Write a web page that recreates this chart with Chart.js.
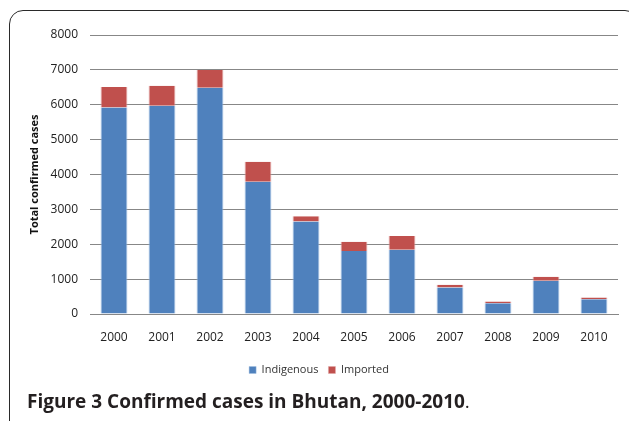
<!DOCTYPE html>
<html>
<head>
<meta charset="utf-8">
<script src="https://cdn.jsdelivr.net/npm/chart.js@4.4.1/dist/chart.umd.min.js"></script>
<style>
  html, body { margin: 0; padding: 0; background: #fff; }
  #wrap { position: relative; width: 629px; height: 421px; overflow: hidden; background: #fff; }
  #frame { position: absolute; left: 9px; top: 10px; width: 630px; height: 430px; border: 1.5px solid #2a2a2a; border-radius: 14px; box-sizing: border-box; }
  canvas { position: absolute; left: 0; top: 0; }
  #caption { position: absolute; left: 27px; top: 391px; font-family: "Open Sans", sans-serif; font-size: 19px; line-height: 20px; color: #231f20; white-space: nowrap; }
  #caption b { font-weight: 700; }
  #caption span { font-weight: 400; }
</style>
</head>
<body>
<div id="wrap">
  <div id="frame"></div>
  <canvas id="c" width="629" height="421"></canvas>
  <div id="caption"><b>Figure 3 Confirmed cases in Bhutan, 2000-2010</b><span>.</span></div>
</div>
<script>
const years = ["2000","2001","2002","2003","2004","2005","2006","2007","2008","2009","2010"];
const indigenous = [5920, 5970, 6490, 3790, 2650, 1810, 1840, 760, 305, 955, 420];
const imported = [590, 575, 510, 575, 150, 260, 400, 80, 50, 115, 50];
const yTicks = [0, 1000, 2000, 3000, 4000, 5000, 6000, 7000, 8000];
const seriesNames = ["Indigenous", "Imported"];
const yTitle = "Total confirmed cases";

const gridColor = "#878787";
const tickFont = { family: "Open Sans", size: 12 };

new Chart(document.getElementById("c"), {
  type: "bar",
  data: {
    labels: years,
    datasets: [
      { label: seriesNames[0], data: indigenous, backgroundColor: "#4F81BD", borderColor: "rgba(160,190,225,0.9)", borderWidth: {left:1,right:1,top:0,bottom:0}, borderSkipped: false },
      { label: seriesNames[1], data: imported, backgroundColor: "#C0504D", borderColor: "rgba(225,165,165,0.9)", borderWidth: {left:1,right:1,top:0,bottom:0}, borderSkipped: false }
    ]
  },
  options: {
    responsive: false,
    animation: false,
    layout: { padding: { left: 20, right: 11, top: 35, bottom: 35.5 } },
    datasets: { bar: { barPercentage: 0.56, categoryPercentage: 1.0 } },
    plugins: {
      legend: {
        position: "bottom",
        labels: { boxWidth: 7, boxHeight: 7, padding: 10, color: "#333", font: { family: "Open Sans", size: 11 } }
      },
      tooltip: { enabled: false }
    },
    scales: {
      x: {
        stacked: true,
        grid: { display: false, drawTicks: false },
        border: { display: true, color: gridColor, width: 1 },
        ticks: { color: "#222", font: tickFont, padding: 16, maxRotation: 0, autoSkip: false },
        afterFit: (s) => { s.height = 40.5; }
      },
      y: {
        stacked: true,
        min: 0, max: 8000,
        afterBuildTicks: (s) => { s.ticks = yTicks.map(v => ({ value: v })); },
        grid: { color: gridColor, lineWidth: 1, drawTicks: false },
        border: { display: false },
        ticks: { color: "#222", font: tickFont, padding: 12, callback: (v) => String(v) },
        title: { display: true, text: yTitle, color: "#111", font: { family: "Open Sans", size: 11, weight: "bold" }, padding: { top: 8, bottom: 0 } },
        afterFit: (s) => { s.width = 70; }
      }
    }
  }
});
</script>
</body>
</html>
